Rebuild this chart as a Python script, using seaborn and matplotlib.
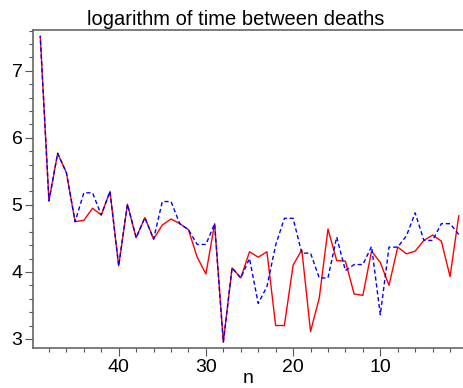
import seaborn as sns
import numpy as np
import pandas as pd
import matplotlib.pyplot as plt
from matplotlib.ticker import MultipleLocator

## data, n runs from 49 down to 1
n = list(range(49, 0, -1))
red = [7.52, 5.06, 5.77, 5.48, 4.75, 4.77, 4.95, 4.85, 5.20, 4.09,
       5.01, 4.51, 4.81, 4.49, 4.70, 4.79, 4.72, 4.63, 4.22, 3.97,
       4.72, 2.95, 4.06, 3.91, 4.30, 4.22, 4.30, 3.20, 3.20, 4.10,
       4.33, 3.11, 3.61, 4.64, 4.17, 4.16, 3.67, 3.65, 4.31, 4.14,
       3.80, 4.37, 4.27, 4.31, 4.47, 4.55, 4.46, 3.93, 4.84]
blue = [7.52, 5.06, 5.77, 5.48, 4.75, 5.18, 5.18, 4.85, 5.20, 4.09,
        5.01, 4.51, 4.81, 4.49, 5.05, 5.05, 4.72, 4.63, 4.41, 4.41,
        4.72, 2.95, 4.06, 3.91, 4.20, 3.53, 3.78, 4.40, 4.80, 4.80,
        4.28, 4.28, 3.91, 3.91, 4.52, 4.02, 4.11, 4.11, 4.38, 3.36,
        4.37, 4.37, 4.54, 4.88, 4.47, 4.47, 4.72, 4.72, 4.56]
title = "logarithm of time between deaths"

df = pd.DataFrame({"n": n, "red": red, "blue": blue})

sns.set_style("ticks")
plt.rcParams['font.family'] = ['Liberation Sans', 'DejaVu Sans']

fig = plt.figure(figsize=(4.64, 3.88), dpi=100)
ax = fig.add_axes([0.0711, 0.1023, 0.9289, 0.8204])

sns.lineplot(data=df, x="n", y="red", color="#ff0000", lw=1.0, ax=ax)
sns.lineplot(data=df, x="n", y="blue", color="#0000ff", lw=1.0,
             linestyle=(0, (3, 2)), ax=ax)

ax.set_xlim(49.83, 0.4)
ax.set_ylim(2.86, 7.61)
ax.xaxis.set_major_locator(MultipleLocator(10))
ax.xaxis.set_minor_locator(MultipleLocator(2))
ax.yaxis.set_major_locator(MultipleLocator(1))
ax.yaxis.set_minor_locator(MultipleLocator(0.2))
ax.set_xticks([40, 30, 20, 10])
ax.tick_params(which="major", length=5.5, width=0.8, color="#555555",
               labelsize=14, labelcolor="black", pad=2)
ax.tick_params(which="minor", length=3, width=0.8, color="#555555")

for side in ["left", "bottom", "top"]:
    ax.spines[side].set_color("#666666")
    ax.spines[side].set_linewidth(1.2)
ax.spines["right"].set_visible(False)

ax.set_xlabel("n", fontsize=14, color="black", labelpad=-4)
ax.set_ylabel("")
fig.text(0.5075, 0.935, title, ha="center", va="baseline", fontsize=14.5,
         color="black")

fig.savefig("out.png", dpi=100)
